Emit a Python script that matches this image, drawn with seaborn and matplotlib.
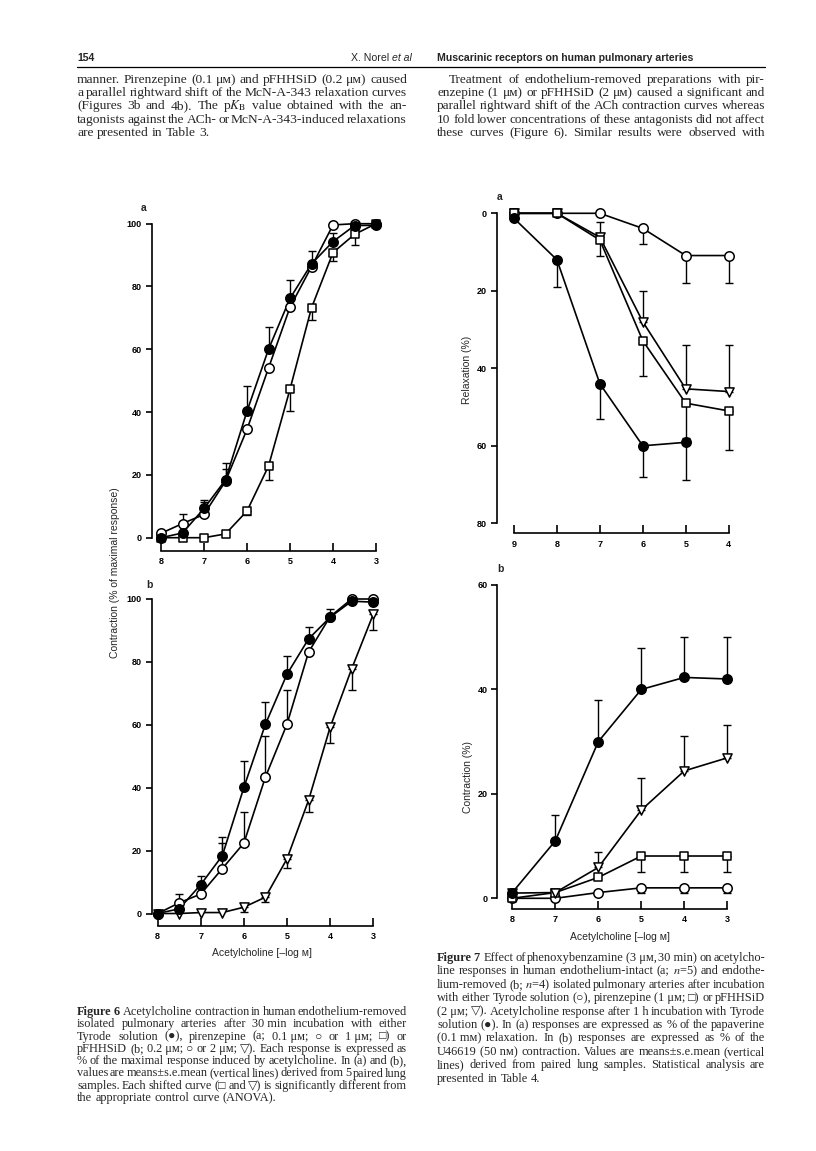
import matplotlib
matplotlib.use("Agg")
import matplotlib.pyplot as plt
from matplotlib.lines import Line2D
import seaborn as sns
import numpy as np

# ---------------- data ----------------
# Figure 6a  (x = -log M acetylcholine)
x6 = [8, 7.5, 7, 6.5, 6, 5.5, 5, 4.5, 4, 3.5, 3]
a_ctrl = [0, 1.5, 9.3, 18.4, 40.3, 60, 76.2, 87.2, 94.3, 99.4, 99.5]
a_ctrl_sem = [0, 0, 2.7, 5.5, 8, 7.2, 6, 4, 2.7, 0.6, 0]
a_pir01 = [1.4, 4.5, 7.4, 18, 34.5, 54, 73.4, 86.3, 99.6, 100, 100]
a_pir01_sem = [0, 3, 4, 4, 0, 0, 0, 0, 0, 0, 0]
a_pir1 = [0, 0, 0, 1.2, 8.5, 22.8, 47.3, 73.2, 90.8, 96.6, 100]
a_pir1_sem = [0, 0, 0, 0, 1.3, 4.4, 6.9, 3.9, 2.6, 3.4, 0]

# Figure 6b
b_ctrl = [0, 1.5, 9.2, 18.4, 40.1, 60.2, 76.1, 87.3, 94.2, 99.3, 99]
b_ctrl_sem = [0, 0, 2.8, 5.9, 8.5, 6.9, 5.9, 3.9, 2.6, 0, 0]
b_pf02 = [0, 3.4, 6.2, 14.3, 22.4, 43.4, 60.2, 83.1, 94.4, 100, 100]
b_pf02_sem = [0, 2.8, 0, 8, 9.9, 12.9, 10.9, 0, 0, 0, 0]
b_pf2 = [0, 0, 0.3, 0.3, 2, 5.2, 17.4, 36, 59.2, 77.8, 95.1]
b_pf2_sem = [0, 0, 0, 0, 1.6, 1.6, 2.9, 3.7, 4.9, 6.7, 4.9]

# Figure 7a (relaxation %)
x7a = [9, 8, 7, 6, 5, 4]
x7a_ctrl = [9, 8, 7, 6, 5]
r_ctrl = [1.3, 12, 44, 60, 59.1]
r_ctrl_sem = [0, 7.1, 9.2, 8, 9.7]
r_tyr = [0, 0, 0, 3.9, 10.9, 10.9]
r_tyr_sem = [0, 0, 0, 4, 7, 7]
r_pir = [0, 0, 6.9, 32.9, 49, 51]
r_pir_sem = [0, 0, 4, 9.1, 9, 10]
r_pf = [0, 0, 6.2, 28, 45.3, 46]
r_pf_sem = [0, 0, 4, 8, 11.3, 12]

# Figure 7b (contraction %)
x7b = [8, 7, 6, 5, 4, 3]
k_ctrl = [1.1, 11, 30, 40, 42.3, 42]
k_ctrl_sem = [0, 5, 8, 8, 7.8, 8]
k_pf = [1, 1.1, 5.9, 16.9, 24.4, 26.9]
k_pf_sem = [0, 0, 3, 6.1, 6.6, 6.2]
k_pir = [0, 1.1, 4, 8.1, 8.1, 8.1]
k_pir_sem = [0, 0, 0, 3.1, 3.1, 3.1]
k_tyr = [0, 0, 1.1, 2, 2, 2]
k_tyr_sem = [0, 0, 0, 0.9, 0.9, 0.9]

ticks6x = [8, 7, 6, 5, 4, 3]
ticks6y = [0, 20, 40, 60, 80, 100]
ticks7ax = [9, 8, 7, 6, 5, 4]
ticks7ay = [0, 20, 40, 60, 80]
ticks7bx = [8, 7, 6, 5, 4, 3]
ticks7by = [0, 20, 40, 60]

# ---------------- text ----------------
header_left = "154"
header_mid = "X. Norel"
header_mid_it = "et al"
header_right = "Muscarinic receptors on human pulmonary arteries"

body_left = [
    "manner. Pirenzepine (0.1 μᴍ) and pFHHSiD (0.2 μᴍ) caused",
    "a parallel rightward shift of the McN-A-343 relaxation curves",
    "(Figures 3b and 4b). The p$K_{\\mathrm{B}}$ value obtained with the an-",
    "tagonists against the ACh- or McN-A-343-induced relaxations",
    "are presented in Table 3.",
]
body_right = [
    "Treatment of endothelium-removed preparations with pir-",
    "enzepine (1 μᴍ) or pFHHSiD (2 μᴍ) caused a significant and",
    "parallel rightward shift of the ACh contraction curves whereas",
    "10 fold lower concentrations of these antagonists did not affect",
    "these curves (Figure 6). Similar results were observed with",
]
cap6 = [
    "§Figure §6  Acetylcholine contraction in human endothelium-removed",
    "isolated pulmonary arteries after 30\u00a0min incubation with either",
    "Tyrode solution (●), pirenzepine (a; 0.1\u00a0μᴍ; ○ or 1\u00a0μᴍ; □) or",
    "pFHHSiD (b; 0.2\u00a0μᴍ; ○ or 2\u00a0μᴍ; ▽). Each response is expressed as",
    "% of the maximal response induced by acetylcholine. In (a) and (b),",
    "values are means\u00b1s.e.mean (vertical lines) derived from 5 paired lung",
    "samples. Each shifted curve (□ and ▽) is significantly different from",
    "the appropriate control curve (ANOVA).",
]
cap7 = [
    "§Figure §7  Effect of phenoxybenzamine (3\u00a0μᴍ, 30\u00a0min) on acetylcho-",
    "line responses in human endothelium-intact (a; $n$=5) and endothe-",
    "lium-removed (b; $n$=4) isolated pulmonary arteries after incubation",
    "with either Tyrode solution (○), pirenzepine (1\u00a0μᴍ; □) or pFHHSiD",
    "(2\u00a0μᴍ; ▽). Acetylcholine response after 1\u00a0h incubation with Tyrode",
    "solution (●). In (a) responses are expressed as % of the papaverine",
    "(0.1\u00a0mᴍ) relaxation. In (b) responses are expressed as % of the",
    "U46619 (50\u00a0nᴍ) contraction. Values are means\u00b1s.e.mean (vertical",
    "lines) derived from paired lung samples. Statistical analysis are",
    "presented in Table 4.",
]
xlabel_txt = "Acetylcholine [\u2013log ᴍ]"
ylab6 = "Contraction (% of maximal response)"
ylab7a = "Relaxation (%)"
ylab7b = "Contraction (%)"

# ---------------- style ----------------
sns.set_style("ticks")
plt.rcParams["font.family"] = ["Liberation Sans", "DejaVu Sans"]
plt.rcParams["mathtext.fontset"] = "stix"
SANS = ["Liberation Sans", "DejaVu Sans"]
SERIF = ["Liberation Serif", "DejaVu Sans"]

W, H = 816, 1151
fig = plt.figure(figsize=(W / 100, H / 100), dpi=100)
fig.patch.set_facecolor("white")
renderer = fig.canvas.get_renderer()


def fx(x):
    return x / W


def fy(y):
    return 1 - y / H


def text_width(s, **kw):
    t = fig.text(0, 0, s, **kw)
    w = t.get_window_extent(renderer).width
    t.remove()
    return w


def tok_style(tok):
    if tok.startswith("§"):
        return tok[1:], "bold"
    return tok, "normal"


def space_w(size):
    return text_width("x x", size=size, family=SERIF) - text_width("xx", size=size, family=SERIF)


def block(lines, x0, x1, y0, lead, base, justify_last=False, indent=0):
    ratios = []
    sp = space_w(base)
    for i, line in enumerate(lines):
        last = (i == len(lines) - 1) and not justify_last
        if last:
            continue
        toks = line.split(" ")
        ws = []
        for t in toks:
            s, wgt = tok_style(t)
            ws.append(text_width(s, size=base, family=SERIF, weight=wgt) if s else 0)
        nat = sum(ws) + sp * (len(toks) - 1)
        avail = x1 - x0 - (indent if i == 0 else 0)
        ratios.append(avail / nat)
    ratios.sort()
    size = base * ratios[len(ratios) // 2]
    sp = space_w(size)
    for i, line in enumerate(lines):
        toks = line.split(" ")
        styled = [tok_style(t) for t in toks]
        ws = [text_width(s, size=size, family=SERIF, weight=w) if s else 0 for s, w in styled]
        xs = x0 + (indent if i == 0 else 0)
        last = (i == len(lines) - 1) and not justify_last
        if last or len(toks) == 1:
            gap = sp
        else:
            gap = max((x1 - xs - sum(ws)) / (len(toks) - 1), 0.45 * sp)
        x = xs
        yb = y0 + i * lead
        for (s, wgt), w in zip(styled, ws):
            if s:
                fig.text(fx(x), fy(yb), s, size=size, family=SERIF, weight=wgt,
                         ha="left", va="baseline")
            x += w + gap


# ---------------- header ----------------
HS = 7.6
fig.text(fx(77), fy(61), header_left, size=HS, family=SANS, weight="bold",
         ha="left", va="baseline")
w_it = text_width(header_mid_it, size=HS, family=SANS, style="italic")
fig.text(fx(412), fy(61), header_mid_it, size=HS, family=SANS, style="italic",
         ha="right", va="baseline")
fig.text(fx(412 - w_it - 3), fy(61), header_mid, size=HS, family=SANS,
         ha="right", va="baseline")
fig.text(fx(437), fy(61), header_right, size=HS, family=SANS, weight="bold",
         ha="left", va="baseline")
fig.add_artist(Line2D([fx(77), fx(765)], [fy(66.5), fy(66.5)], color="black",
                      lw=0.9, transform=fig.transFigure))

# ---------------- body text ----------------
block(body_left, 77, 407, 83, 13.2, 9.5)
block(body_right, 437, 765, 83, 13.2, 9.5, justify_last=True, indent=12)
block(cap6, 77, 407, 1015, 12.3, 8.5)
block(cap7, 437, 765, 961, 13.4, 8.5)


# ---------------- charts ----------------
def place_ax(xref_px, xref, sx, y0_px, y0, y1_px, y1, box):
    l, r, t, b = box
    ax = fig.add_axes([fx(l), fy(b), (r - l) / W, (b - t) / H])
    ax.set_facecolor("none")
    ax.set_xlim(xref + (xref_px - l) / sx, xref - (r - xref_px) / sx)
    sy = (y0_px - y1_px) / (y1 - y0)
    ax.set_ylim(y0 - (b - y0_px) / sy, y0 + (y0_px - t) / sy)
    return ax


def style_ax(ax, xt, yt):
    for s in ("top", "right"):
        ax.spines[s].set_visible(False)
    ax.spines["left"].set_bounds(min(yt), max(yt))
    ax.spines["bottom"].set_bounds(min(xt), max(xt))
    for s in ("left", "bottom"):
        ax.spines[s].set_linewidth(1.2)
        ax.spines[s].set_color("black")
    ax.set_xticks(xt)
    ax.set_yticks(yt)
    ax.set_xticklabels([str(v) for v in xt], fontweight="bold")
    ax.set_yticklabels([str(v) for v in yt], fontweight="bold")
    ax.tick_params(axis="x", direction="in", length=5.5, width=1.2, pad=4.5,
                   labelsize=6.5, colors="black")
    ax.tick_params(axis="y", direction="out", length=4.5, width=1.2, pad=2.5,
                   labelsize=6.5, colors="black")
    ax.grid(False)
    ax.set_xlabel("")
    ax.set_ylabel("")


def series(ax, x, y, sem, marker, filled, ms, err_dir):
    sem = np.asarray(sem, dtype=float)
    if err_dir > 0:
        yerr = [np.zeros_like(sem), sem]
    else:
        yerr = [sem, np.zeros_like(sem)]
    mask = sem > 0
    xa = np.asarray(x, dtype=float)
    ya = np.asarray(y, dtype=float)
    if mask.any():
        ax.errorbar(xa[mask], ya[mask], yerr=[yerr[0][mask], yerr[1][mask]], fmt="none",
                    ecolor="black", elinewidth=1.0, capsize=2.8, capthick=1.0, zorder=2)
    sns.lineplot(x=x, y=y, ax=ax, color="black", lw=1.2, zorder=3, legend=False)
    sns.scatterplot(x=x, y=y, ax=ax, marker=marker, s=ms ** 2,
                    color="black" if filled else "white", edgecolor="black",
                    linewidth=1.1, zorder=4, legend=False)


# Figure 6a
ax = place_ax(161, 8, 43.0, 537.7, 0, 223.7, 100, (151.7, 384, 214, 550.5))
series(ax, x6, a_pir1, a_pir1_sem, "s", False, 6.0, -1)
series(ax, x6, a_pir01, a_pir01_sem, "o", False, 6.8, +1)
series(ax, x6, a_ctrl, a_ctrl_sem, "o", True, 6.8, +1)
style_ax(ax, ticks6x, ticks6y)

# Figure 6b
ax = place_ax(157.7, 8, 43.1, 913.5, 0, 599, 100, (151.7, 381, 590, 925.5))
series(ax, x6, b_pf2, b_pf2_sem, "v", False, 6.6, -1)
series(ax, x6, b_pf02, b_pf02_sem, "o", False, 6.8, +1)
series(ax, x6, b_ctrl, b_ctrl_sem, "o", True, 6.8, +1)
style_ax(ax, ticks6x, ticks6y)
ax.set_xlabel(xlabel_txt, fontsize=7.5, va="center")
ax.xaxis.set_label_coords(fx(262), fy(953), transform=fig.transFigure)

# Figure 7a
ax = place_ax(514, 9, 42.94, 213.3, 0, 523.3, 80, (496.7, 737, 205, 533.3))
series(ax, x7a, r_tyr, r_tyr_sem, "o", False, 6.8, +1)
series(ax, x7a, r_pf, r_pf_sem, "v", False, 6.6, -1)
series(ax, x7a, r_pir, r_pir_sem, "s", False, 6.0, +1)
series(ax, x7a_ctrl, r_ctrl, r_ctrl_sem, "o", True, 6.8, +1)
style_ax(ax, ticks7ax, ticks7ay)
ax.set_ylabel(ylab7a, fontsize=7.5, va="center")
ax.yaxis.set_label_coords(fx(467), fy(370), transform=fig.transFigure)

# Figure 7b
ax = place_ax(512.3, 8, 43.0, 898.3, 0, 585, 60, (497.3, 736, 576, 909))
series(ax, x7b, k_tyr, k_tyr_sem, "o", False, 6.8, -1)
series(ax, x7b, k_pir, k_pir_sem, "s", False, 6.0, -1)
series(ax, x7b, k_pf, k_pf_sem, "v", False, 6.6, +1)
series(ax, x7b, k_ctrl, k_ctrl_sem, "o", True, 6.8, +1)
style_ax(ax, ticks7bx, ticks7by)
ax.set_xlabel(xlabel_txt, fontsize=7.5, va="center")
ax.xaxis.set_label_coords(fx(620), fy(937), transform=fig.transFigure)
ax.set_ylabel(ylab7b, fontsize=7.5, va="center")
ax.yaxis.set_label_coords(fx(468), fy(777), transform=fig.transFigure)

# shared y label for Figure 6
fig.text(fx(115), fy(573), ylab6, rotation=90, size=7.5, family=SANS,
         ha="center", va="center")

# panel letters
for (px, py, letter) in [(144, 208, "a"), (149, 585, "b"), (500, 197, "a"), (500, 569, "b")]:
    fig.text(fx(px), fy(py), letter, size=7.5, weight="bold", family=SANS,
             ha="center", va="center")

fig.savefig("out.png", dpi=100, facecolor="white")
